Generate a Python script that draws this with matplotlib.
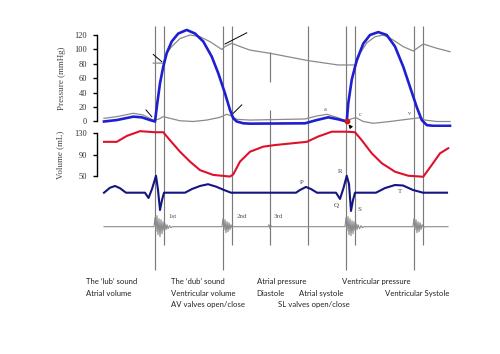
import matplotlib
matplotlib.use("Agg")
import matplotlib.pyplot as plt

# ---------------------------------------------------------------
# data (time in ms, one cardiac cycle ~764 ms)
# ---------------------------------------------------------------
event_t = [204, 240, 476, 512, 664, 816, 968, 1004, 1240, 1276]
event_long = [True, False, True, False, False, False, True, False, True, False]

vent_t = [0, 51, 117, 151, 184, 204, 213, 224, 237, 251, 271, 297, 331, 364, 397,
          431, 457, 484, 504, 517, 531, 557, 584, 804, 851, 897, 937, 971, 977, 991,
          1011, 1037, 1064, 1097, 1131, 1164, 1197, 1224, 1251, 1271, 1291, 1317, 1384]
vent_p = [0, 2, 6.7, 5.8, 2, 0, 25, 53, 76, 95, 111, 122, 127, 122, 111,
          90, 67, 39, 16, 4.4, 0, -2.5, -3, -2.5, 2, 5.8, 3, 0, 25, 58,
          85, 108, 120, 124, 120, 104, 76, 48, 20, 2, -5, -6, -6]

aorta_t = [197, 237, 251, 271, 304, 344, 384, 424, 471, 484, 511, 544, 584, 664,
           817, 937, 1008, 1024, 1051, 1084, 1117, 1157, 1197, 1237, 1277, 1331, 1384]
aorta_p = [81, 81, 95, 104, 115, 120, 117.6, 110.7, 100, 104, 108.5, 104, 99, 94.6,
           84.4, 78.4, 78.4, 94.6, 109, 117.6, 120, 113, 103.8, 97.8, 107.5, 101.6, 96.8]

atrium_t = [0, 51, 117, 157, 197, 217, 237, 264, 304, 357, 411, 464, 491, 511, 531,
            584, 804, 851, 891, 931, 971, 991, 1008, 1037, 1077, 1144, 1211, 1264,
            1284, 1331, 1384]
atrium_p = [4.4, 6.7, 11.4, 9, 2, 3, 6.7, 4.4, 1, 0, 2, 5.8, 10, 7.6, 3,
            2, 3.5, 7.6, 10, 5.8, 0.7, 3.9, 5.3, 0, -2.5, 0, 3, 5.3,
            2, 0, 0]

vol_t = [0, 51, 91, 144, 204, 237, 264, 304, 344, 384, 437, 504, 517, 544, 584, 637,
         684, 811, 857, 911, 971, 1004, 1031, 1071, 1111, 1164, 1217, 1277, 1311,
         1344, 1377]
vol_ml = [114, 114, 125, 134, 132, 132, 117, 95.5, 77, 61, 52, 49, 53, 77, 95.5, 105,
          108, 114, 124, 133, 133, 132, 117, 92.5, 74, 58, 50.5, 48.6, 70.6,
          92.5, 102]

ecg_t = [0, 24, 44, 64, 88, 164, 178, 192, 208, 216, 224, 232, 240, 324, 352, 384,
         416, 448, 480, 508, 768, 784, 808, 828, 852, 928, 944, 958, 971, 980, 988,
         996, 1004, 1088, 1124, 1164, 1196, 1236, 1276, 1372]
ecg_mv = [0, 0.31, 0.42, 0.28, 0, 0, -0.33, 0.23, 1.06, 0.17, -1.08, -0.46, 0, 0, 0.23, 0.42,
          0.53, 0.38, 0.17, 0, 0, 0.17, 0.36, 0.23, 0, 0, -0.39, 0.29, 1.06, 0.54, -1.14,
          -0.46, 0, 0, 0.29, 0.48, 0.45, 0.17, 0, 0]

sound_t = [0, 200, 204, 208, 212, 216, 220, 224, 228, 232, 236, 240, 244, 248, 252, 256,
           262, 268, 274, 472, 476, 480, 484, 488, 492, 496, 500, 504, 508, 512, 516,
           656, 660, 664, 668, 672, 964, 968, 972, 976, 980, 984, 988, 992, 996, 1000,
           1004, 1008, 1012, 1016, 1022, 1028, 1034, 1040, 1236, 1240, 1244, 1248, 1252,
           1256, 1260, 1264, 1268, 1272, 1278, 1284, 1376]
sound_amp = [0, 0, 9, -5, 11, -8, 8, -10, 7, -7, 5, -4, 3, -3, 2, -2,
             1, -1, 0, 0, 8, -3, 7, -6, 5, -5, 4, -3, 2, -1, 0,
             0, 2, -2, 1, 0, 0, 9, -4, 10, -8, 8, -9, 6, -7, 5,
             -4, 3, -3, 2, -2, 1, -1, 0, 0, 8, -3, 7, -6,
             5, -5, 4, -3, 2, -1, 0, 0]

# pointer strokes (t0, p0, t1, p1)
pointers = [(168, 16, 191, 6.7), (197, 93, 231, 83), (484, 107.5, 571, 123), (517, 11.4, 551, 23)]

wave_labels = [("a", 885, 16), ("c", 1024, 10.4), ("v", 1221, 11.4)]
ecg_labels = [("P", 791, 0.65), ("R", 944, 1.31), ("Q", 928, -0.77), ("S", 1021, -1.08), ("T", 1184, 0.06)]
sound_labels = [("1st", 273), ("2nd", 551), ("3rd", 697)]

captions = [
    ("The \u2018lub\u2019 sound", 86, 281.7), ("Atrial volume", 86, 293.3),
    ("The \u2018dub\u2019 sound", 171, 281.7), ("Ventricular volume", 171, 293.3),
    ("AV valves open/close", 171, 305), ("Atrial pressure", 256.7, 281.7),
    ("Diastole", 256.7, 293.3), ("Atrial systole", 299.3, 293.3),
    ("SL valves open/close", 277.7, 305), ("Ventricular pressure", 342.3, 281.7),
    ("Ventricular Systole", 385, 293.3),
]

# ---------------------------------------------------------------
# layout
# ---------------------------------------------------------------
W, H = 500, 354
fig = plt.figure(figsize=(5.0, 3.54), dpi=100)
fig.patch.set_facecolor("white")
XLIM = (-28, 1392)
SERIF = "Liberation Serif"
BLUE = "#1f1fd2"
NAVY = "#141482"
RED = "#e0102c"
GRAY = "#8a8a8a"


def px_axes(top, bottom):
    a = fig.add_axes([97 / W, 1 - bottom / H, 355 / W, (bottom - top) / H])
    a.set_xlim(*XLIM)
    a.patch.set_visible(False)
    for s in a.spines.values():
        s.set_visible(False)
    a.set_xticks([])
    a.set_yticks([])
    return a


# event lines
ax_ev = px_axes(0, H)
ax_ev.set_ylim(H, 0)
for t, lg in zip(event_t, event_long):
    if t == 664:
        ax_ev.vlines(t, 52, 82, color="#7a7a7a", lw=0.85)
        ax_ev.vlines(t, 110, 245, color="#7a7a7a", lw=0.85)
    else:
        ax_ev.vlines(t, 26, 270 if lg else 245, color="#7a7a7a", lw=0.85)

# pressure
ax_p = px_axes(22, 127)
ax_p.set_ylim(-7.63, 138.0)
ax_p.spines["left"].set_visible(True)
ax_p.spines["left"].set_bounds(0, 120)
ax_p.set_yticks(range(0, 121, 20))
ax_p.plot(atrium_t, atrium_p, color=GRAY, lw=0.9)
ax_p.plot(aorta_t, aorta_p, color=GRAY, lw=0.9)
ax_p.plot(vent_t, vent_p, color=BLUE, lw=1.9, solid_joinstyle="round")
for t0, p0, t1, p1 in pointers:
    ax_p.plot([t0, t1], [p0, p1], color="black", lw=0.7)
for s, t, p in wave_labels:
    ax_p.text(t, p, s, fontsize=4.5, family=SERIF, color="#555", ha="center", va="center")
ax_p.plot([971], [0], "o", color="#d01818", ms=3.2)
ax_p.annotate("", xy=(971, -1), xytext=(990, -9),
              arrowprops=dict(arrowstyle="-|>", color="black", lw=0.8, mutation_scale=5))

# volume
ax_v = px_axes(127, 182)
ax_v.set_ylim(38.76, 141.8)
ax_v.spines["left"].set_visible(True)
ax_v.spines["left"].set_bounds(50, 130)
ax_v.set_yticks([50, 90, 130])
ax_v.plot(vol_t, vol_ml, color=RED, lw=1.5, solid_joinstyle="round")

for a in (ax_p, ax_v):
    a.spines["left"].set_linewidth(1.0)
    a.tick_params(axis="y", direction="out", length=3, width=1.0, pad=4,
                  labelsize=6, labelcolor="#333")
    for lab in a.get_yticklabels():
        lab.set_family(SERIF)

fig.text(61.5 / W, 1 - 78 / H, "Pressure (mmHg)", rotation=90, family=SERIF,
         fontsize=6.5, color="#444", ha="center", va="center")
fig.text(60 / W, 1 - 154.5 / H, "Volume (mL)", rotation=90, family=SERIF,
         fontsize=6.5, color="#444", ha="center", va="center")

# ECG
ax_e = px_axes(165, 218)
ax_e.set_ylim(-1.58, 1.73)
ax_e.plot(ecg_t, ecg_mv, color=NAVY, lw=1.5, solid_joinstyle="round")
for s, t, v in ecg_labels:
    ax_e.text(t, v, s, fontsize=5, family=SERIF, color="#444", ha="center", va="center")

# heart sounds
ax_s = px_axes(205, 250)
ax_s.set_ylim(-23.3, 21.7)
ax_s.plot(sound_t, sound_amp, color=GRAY, lw=0.8)
for s, t in sound_labels:
    ax_s.text(t, 10, s, fontsize=5, family=SERIF, color="#555", ha="center", va="center")

# captions
for s, x, y in captions:
    fig.text(x / W, 1 - y / H, s, fontsize=5.6, family="Lato", color="#222",
             ha="left", va="center")

fig.savefig("out.png", dpi=100, facecolor="white")
